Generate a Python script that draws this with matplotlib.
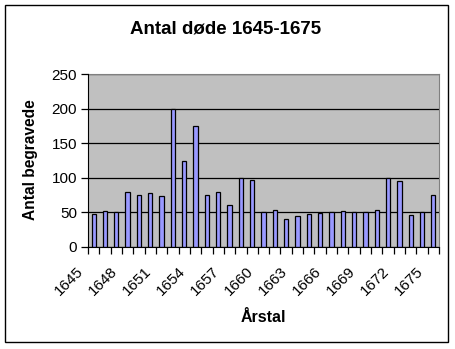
import matplotlib.pyplot as plt
import numpy as np
from matplotlib.patches import Rectangle
from matplotlib.transforms import ScaledTranslation, blended_transform_factory

plt.rcParams['font.family'] = ['Liberation Sans', 'DejaVu Sans']

YEARS  = list(range(1645, 1676))
DEATHS = [48, 52, 50, 80, 75, 78, 74, 200, 125, 175, 75,
          80, 61, 100, 97, 50, 53, 40, 45, 48, 49, 50,
          52, 50, 50, 53, 99, 96, 46, 50, 75]
LABEL_YEARS = YEARS[::3]
YTICKS = [0, 50, 100, 150, 200, 250]


def main():
    fig = plt.figure(figsize=(4.55, 3.49), dpi=100)
    fig.patch.set_facecolor('white')
    # chart border
    fig.patches.append(Rectangle((5/455, 1-342/349), 443/455, 337/349,
                                 transform=fig.transFigure, fill=False,
                                 edgecolor='black', lw=1))

    ax = fig.add_axes([88/455, 1-247/349, 351/455, 173/349])
    ax.set_facecolor('#C0C0C0')
    x = np.arange(len(YEARS))
    ax.bar(x, DEATHS, width=0.38, color='#9999FF', edgecolor='black',
           linewidth=0.9, zorder=3)

    ax.set_xlim(-0.5, len(YEARS) - 0.5)
    ax.set_ylim(0, 250)
    ax.set_yticks(YTICKS)
    ax.yaxis.grid(True, color='black', lw=0.9, zorder=1)

    # tick marks at category boundaries, no major ticks
    ax.set_xticks([])
    ax.set_xticks(np.arange(-0.5, len(YEARS), 1), minor=True)
    ax.tick_params(axis='x', which='minor', length=5, width=0.9,
                   direction='out', color='black')
    ax.tick_params(axis='y', length=5, width=0.9, direction='out',
                   labelsize=11, pad=3)

    # rotated year labels, excel puts them a bit left of the category centre
    trans = blended_transform_factory(ax.transData, ax.transAxes)
    trans = trans + ScaledTranslation(-17.5/100, -17.5/100, fig.dpi_scale_trans)
    for y in LABEL_YEARS:
        ax.text(YEARS.index(y), 0, str(y), transform=trans, rotation=45,
                ha='right', va='top', rotation_mode='anchor', fontsize=11,
                clip_on=False)

    for side in ('top', 'right'):
        ax.spines[side].set_color('#808080')
    for side in ('left', 'bottom'):
        ax.spines[side].set_color('black')
        ax.spines[side].set_zorder(4)

    fig.text(226/455, 1-29/349, 'Antal døde 1645-1675', ha='center',
             va='center', fontsize=13.5, fontweight='bold')
    fig.text(31/455, 1-160/349, 'Antal begravede', ha='center',
             va='center', rotation=90, fontsize=11.2, fontweight='bold')
    fig.text(263/455, 1-318/349, 'Årstal', ha='center', va='center',
             fontsize=11.5, fontweight='bold')

    fig.savefig('out.png', dpi=100)


if __name__ == '__main__':
    main()
